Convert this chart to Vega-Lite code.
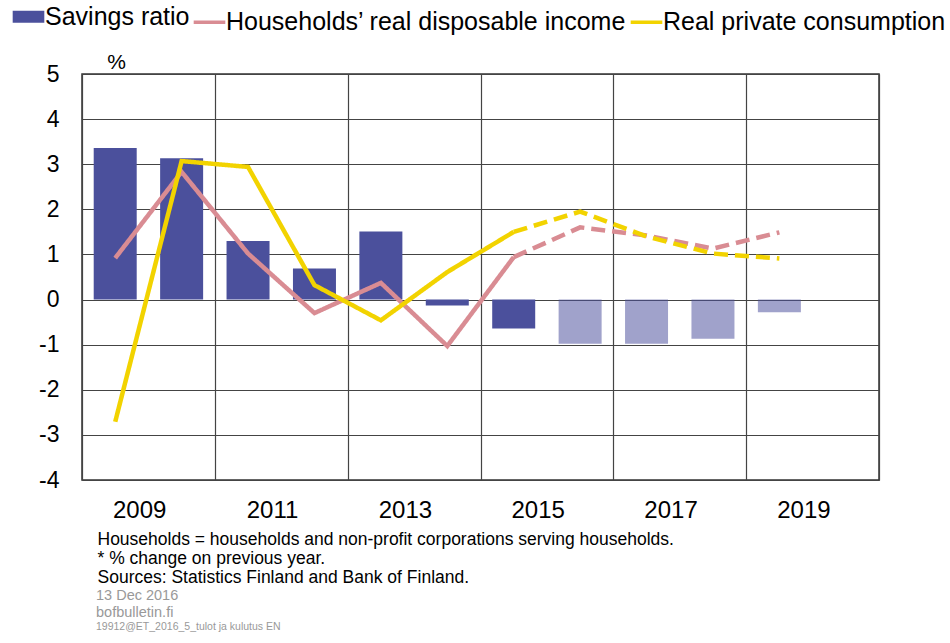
{
  "$schema": "https://vega.github.io/schema/vega-lite/v6.json",
  "autosize": {"type": "none"},
  "padding": {"left": 82, "top": 74, "right": 71, "bottom": 163},
  "width": 797,
  "height": 406,
  "background": "white",
  "config": {
    "font": "Liberation Sans",
    "view": {"stroke": "#333333", "strokeWidth": 1.5}
  },
  "title": {
    "text": ["13 Dec 2016", "bofbulletin.fi"],
    "subtitle": "19912@ET_2016_5_tulot  ja kulutus EN",
    "orient": "bottom",
    "anchor": "start",
    "frame": "group",
    "dx": 14,
    "offset": 3,
    "fontSize": 14.5,
    "fontWeight": "normal",
    "color": "#999999",
    "lineHeight": 17,
    "subtitleFontSize": 10.5,
    "subtitleColor": "#999999",
    "subtitlePadding": 2
  },
  "data": {
    "values": [
      {"year": 2009, "series": "Savings ratio", "value": 3.36, "phase": "actual"},
      {"year": 2010, "series": "Savings ratio", "value": 3.13, "phase": "actual"},
      {"year": 2011, "series": "Savings ratio", "value": 1.30, "phase": "actual"},
      {"year": 2012, "series": "Savings ratio", "value": 0.69, "phase": "actual"},
      {"year": 2013, "series": "Savings ratio", "value": 1.51, "phase": "actual"},
      {"year": 2014, "series": "Savings ratio", "value": -0.13, "phase": "actual"},
      {"year": 2015, "series": "Savings ratio", "value": -0.64, "phase": "actual"},
      {"year": 2016, "series": "Savings ratio", "value": -0.98, "phase": "forecast"},
      {"year": 2017, "series": "Savings ratio", "value": -0.98, "phase": "forecast"},
      {"year": 2018, "series": "Savings ratio", "value": -0.87, "phase": "forecast"},
      {"year": 2019, "series": "Savings ratio", "value": -0.28, "phase": "forecast"},
      {"year": 2009, "series": "Households’ real disposable income", "value": 0.92, "phase": "actual"},
      {"year": 2010, "series": "Households’ real disposable income", "value": 2.83, "phase": "actual"},
      {"year": 2011, "series": "Households’ real disposable income", "value": 1.02, "phase": "actual"},
      {"year": 2012, "series": "Households’ real disposable income", "value": -0.30, "phase": "actual"},
      {"year": 2013, "series": "Households’ real disposable income", "value": 0.37, "phase": "actual"},
      {"year": 2014, "series": "Households’ real disposable income", "value": -1.03, "phase": "actual"},
      {"year": 2015, "series": "Households’ real disposable income", "value": 0.94, "phase": "actual"},
      {"year": 2015, "series": "Households’ real disposable income", "value": 0.94, "phase": "forecast"},
      {"year": 2016, "series": "Households’ real disposable income", "value": 1.60, "phase": "forecast"},
      {"year": 2017, "series": "Households’ real disposable income", "value": 1.42, "phase": "forecast"},
      {"year": 2018, "series": "Households’ real disposable income", "value": 1.13, "phase": "forecast"},
      {"year": 2019, "series": "Households’ real disposable income", "value": 1.49, "phase": "forecast"},
      {"year": 2009, "series": "Real private consumption", "value": -2.71, "phase": "actual"},
      {"year": 2010, "series": "Real private consumption", "value": 3.07, "phase": "actual"},
      {"year": 2011, "series": "Real private consumption", "value": 2.94, "phase": "actual"},
      {"year": 2012, "series": "Real private consumption", "value": 0.32, "phase": "actual"},
      {"year": 2013, "series": "Real private consumption", "value": -0.46, "phase": "actual"},
      {"year": 2014, "series": "Real private consumption", "value": 0.61, "phase": "actual"},
      {"year": 2015, "series": "Real private consumption", "value": 1.50, "phase": "actual"},
      {"year": 2015, "series": "Real private consumption", "value": 1.50, "phase": "forecast"},
      {"year": 2016, "series": "Real private consumption", "value": 1.95, "phase": "forecast"},
      {"year": 2017, "series": "Real private consumption", "value": 1.40, "phase": "forecast"},
      {"year": 2018, "series": "Real private consumption", "value": 1.02, "phase": "forecast"},
      {"year": 2019, "series": "Real private consumption", "value": 0.91, "phase": "forecast"}
    ]
  },
  "encoding": {
    "x": {
      "field": "year",
      "type": "quantitative",
      "scale": {"domain": [2008.5, 2020.5], "nice": false, "zero": false, "padding": 0},
      "axis": {
        "values": [2008.5, 2009, 2010.5, 2011, 2012.5, 2013, 2014.5, 2015, 2016.5, 2017, 2018.5, 2019, 2020.5],
        "labelExpr": "datum.value % 1 === 0 ? format(datum.value, 'd') : ''",
        "labelOverlap": false,
        "labelFlush": false,
        "labelFontSize": 24,
        "labelColor": "#000000",
        "labelPadding": 18,
        "labelOffset": 24,
        "ticks": false,
        "domain": false,
        "grid": true,
        "gridColor": "#444444",
        "gridWidth": 1.2,
        "gridOpacity": {"condition": {"test": "datum.value % 1 !== 0", "value": 1}, "value": 0},
        "title": ["Households = households and non-profit corporations serving households.", "* % change on previous year.", "Sources: Statistics Finland and Bank of Finland."],
        "titleFontSize": 17.5,
        "titleFontWeight": "normal",
        "titleColor": "#000000",
        "titleAnchor": "start",
        "titleAlign": "left",
        "titleBaseline": "top",
        "titleLineHeight": 19,
        "titleX": 15,
        "titleY": 50
      }
    },
    "y": {
      "field": "value",
      "type": "quantitative",
      "scale": {"domain": [-4, 5], "nice": false},
      "axis": {
        "values": [-4, -3, -2, -1, 0, 1, 2, 3, 4, 5],
        "labelExpr": "datum.value < 0 ? '-' + abs(datum.value) : '' + datum.value",
        "labelFontSize": 23,
        "labelColor": "#000000",
        "labelPadding": 23,
        "ticks": false,
        "domain": false,
        "grid": true,
        "gridColor": "#444444",
        "gridWidth": 1.2,
        "title": "%",
        "titleAngle": 0,
        "titleFontSize": 21,
        "titleFontWeight": "normal",
        "titleColor": "#000000",
        "titleAlign": "center",
        "titleBaseline": "middle",
        "titleX": 34,
        "titleY": -12
      }
    },
    "color": {
      "field": "series",
      "type": "nominal",
      "scale": {
        "domain": ["Savings ratio", "Households’ real disposable income", "Real private consumption"],
        "range": ["#4B509C", "#D98C93", "#F2D300"]
      },
      "legend": {
        "orient": "none",
        "legendX": -66,
        "legendY": -70,
        "direction": "horizontal",
        "columns": 3,
        "title": null,
        "labelFontSize": 25,
        "labelColor": "#000000",
        "labelLimit": 600,
        "labelOffset": 4,
        "columnPadding": -4,
        "symbolSize": 1000,
        "symbolOpacity": 1,
        "encode": {
          "symbols": {
            "update": {
              "shape": {"value": "stroke"},
              "stroke": {"scale": "color", "field": "value"},
              "strokeWidth": {"signal": "datum.value === 'Savings ratio' ? 12 : 3.5"},
              "opacity": {"value": 1}
            }
          }
        }
      }
    }
  },
  "layer": [
    {
      "transform": [{"filter": "datum.series === 'Savings ratio'"}],
      "mark": {"type": "bar", "width": 43, "orient": "vertical"},
      "encoding": {
        "opacity": {
          "field": "phase",
          "type": "nominal",
          "scale": {"domain": ["actual", "forecast"], "range": [1, 0.53]},
          "legend": null
        }
      }
    },
    {
      "transform": [{"filter": "datum.series === 'Households’ real disposable income'"}],
      "mark": {"type": "line", "strokeWidth": 4.5, "strokeCap": "butt", "strokeJoin": "miter"},
      "encoding": {
        "strokeDash": {
          "field": "phase",
          "type": "nominal",
          "scale": {"domain": ["actual", "forecast"], "range": [[1, 0], [14, 7]]},
          "legend": null
        }
      }
    },
    {
      "transform": [{"filter": "datum.series === 'Real private consumption'"}],
      "mark": {"type": "line", "strokeWidth": 4.5, "strokeCap": "butt", "strokeJoin": "miter"},
      "encoding": {
        "strokeDash": {
          "field": "phase",
          "type": "nominal",
          "scale": {"domain": ["actual", "forecast"], "range": [[1, 0], [14, 7]]},
          "legend": null
        }
      }
    }
  ]
}
